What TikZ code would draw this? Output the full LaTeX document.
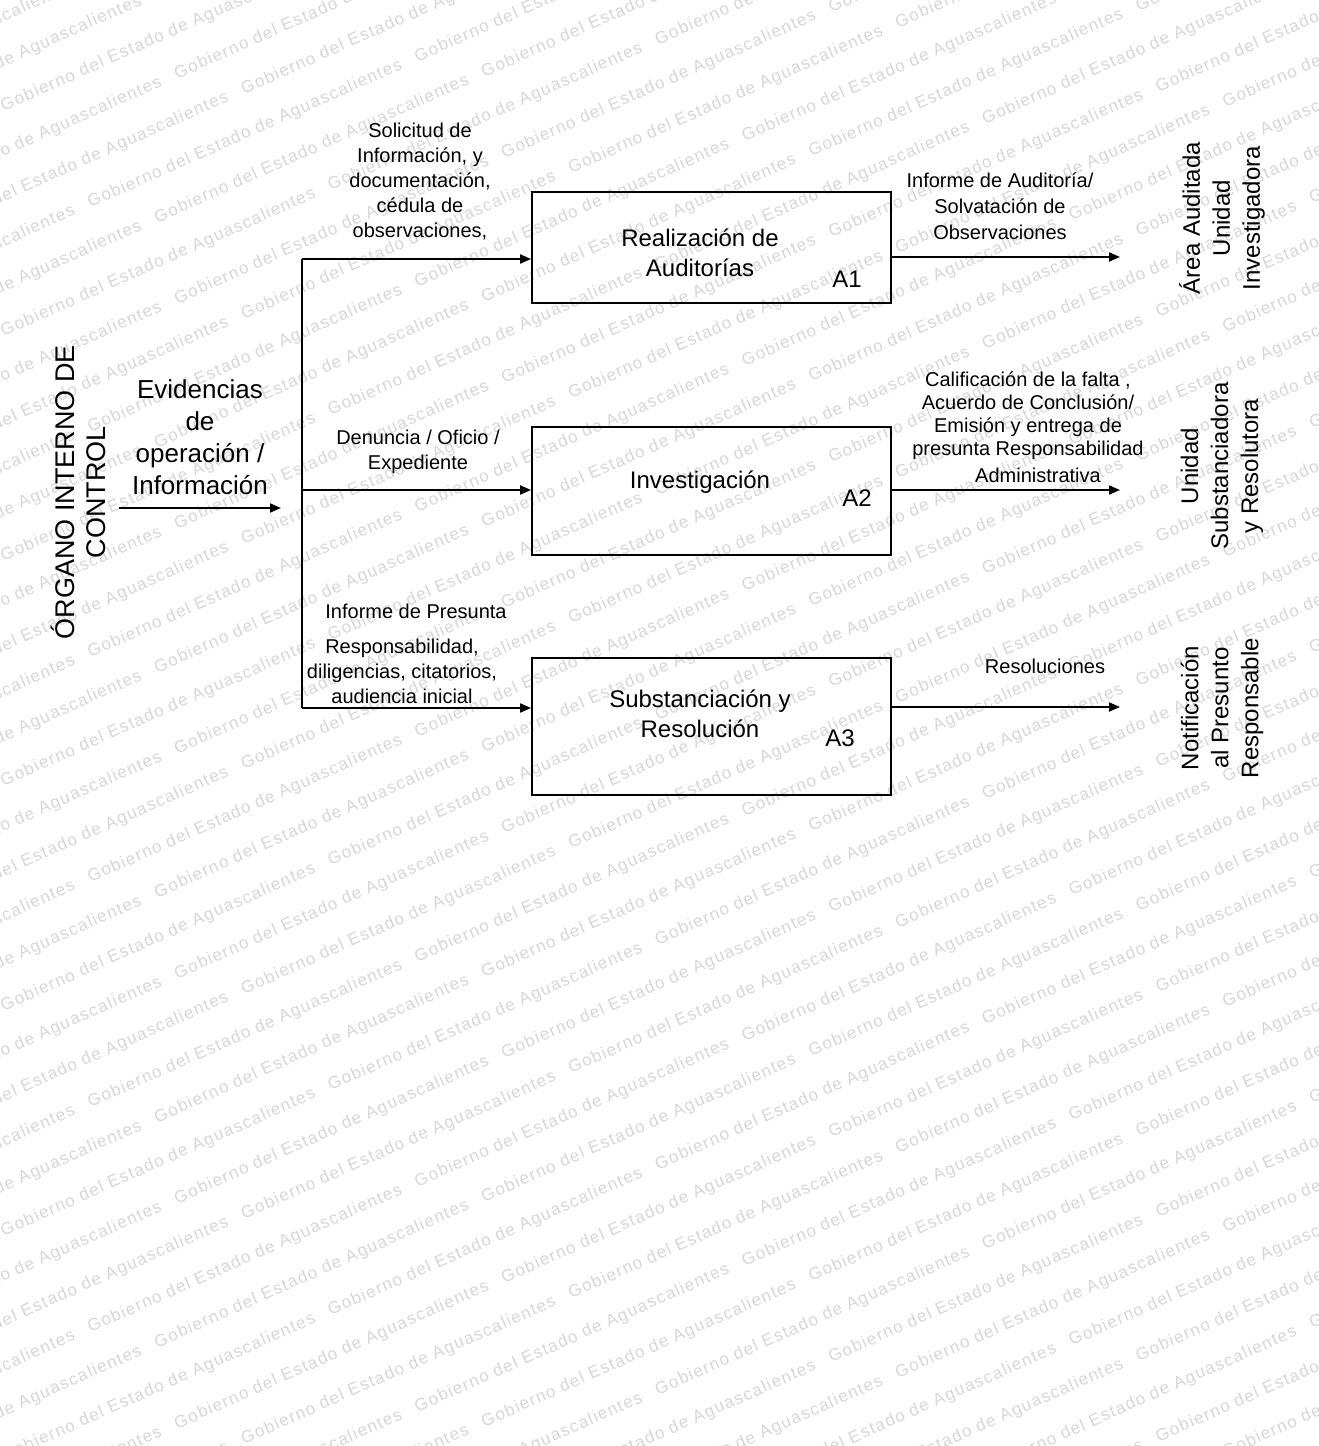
\documentclass[tikz,border=0pt]{standalone}
\usepackage{fontspec}
\setmainfont{Liberation Sans}
\newfontfamily\wmfont{Liberation Sans}[LetterSpace=8]
\usetikzlibrary{arrows.meta}

% background pattern text
\newcommand\wmphrase{Gobierno del Estado de Aguascalientes\hspace{16pt}}
\newcommand\wmline{\wmphrase\wmphrase\wmphrase\wmphrase\wmphrase\wmphrase}

\definecolor{wmgray}{RGB}{214,214,214}

\tikzset{
  wm/.style={font=\wmfont\fontsize{17}{17}\selectfont, text=wmgray, inner sep=0pt},
  proc/.style={draw, line width=1.8pt, minimum width=359pt, minimum height=#1, inner sep=0pt},
  lbl/.style={font=\fontsize{20}{25}\selectfont, align=center, inner sep=0pt},
  boxtxt/.style={font=\fontsize{24}{30}\selectfont, align=center, inner sep=0pt},
  sidetxt/.style={font=\fontsize{24}{30}\selectfont, align=center, inner sep=0pt, rotate=90},
  arr/.style={line width=1.8pt, -{Triangle[length=11pt,width=9pt]}},
  plain/.style={line width=1.6pt}
}

\begin{document}
\begin{tikzpicture}[x=1pt,y=-1pt]
\useasboundingbox (0,0) rectangle (1318,1446);

% diagonal background text: parallel lines 45pt apart, each started at a
% different point along its own direction so the words are staggered
\begin{scope}
  \clip (0,0) rectangle (1318,1446);
  \foreach \i in {0,...,50}{
    \pgfmathsetmacro\k{mod(\i*3,5)}
    \pgfmathsetmacro\xs{-150-\k*95*cos(24)}
    \pgfmathsetmacro\ys{\i*45+\k*95*sin(24)}
    \node[wm, anchor=base west, rotate=24] (wm\i) at (\xs, \ys) {\wmline};
  }
\end{scope}

% activity boxes
\node[proc=111pt] (a1) at (711.5,247.5) {};
\node[proc=128pt] (a2) at (711.5,491) {};
\node[proc=137pt] (a3) at (711.5,726.5) {};

\node[boxtxt] (t1) at (700,253) {Realización de\\Auditorías};
\node[boxtxt] (t2) at (700,482) {Investigación};
\node[boxtxt] (t3) at (700,714) {Substanciación y\\Resolución};

\node[boxtxt] (n1) at (847,279) {A1};
\node[boxtxt] (n2) at (857,498) {A2};
\node[boxtxt] (n3) at (840,738) {A3};

% source and input
\node[sidetxt, font=\fontsize{27}{31}\selectfont] (oic) at (78,492) {ÓRGANO INTERNO DE\\CONTROL};
\node[font=\fontsize{26}{32}\selectfont, align=center, inner sep=0pt] (evid) at (200,437)
  {Evidencias\\de\\operación /\\Información};

\coordinate (in0) at (119,508);
\coordinate (in1) at (281,508);
\draw[arr] (in0) -- (in1);

% distribution line
\coordinate (j1) at (302,259);
\coordinate (j2) at (302,490);
\coordinate (j3) at (302,708);
\draw[plain] (j1) -- (j3);
\draw[arr] (j1) -- (j1 -| a1.west);
\draw[arr] (j2) -- (j2 -| a2.west);
\draw[arr] (j3) -- (j3 -| a3.west);

\node[lbl] (i1) at (420,182) {Solicitud de\\Información, y\\documentación,\\cédula de\\observaciones,};
\node[lbl] (i2) at (418,452) {Denuncia / Oficio /\\Expediente};
\node[lbl] (i3a) at (416,611) {Informe de Presunta};
\node[lbl] (i3b) at (402,671) {Responsabilidad,\\diligencias, citatorios,\\audiencia inicial};

% outputs
\coordinate (o1) at (1120,257);
\coordinate (o2) at (1120,490);
\coordinate (o3) at (1120,707);
\draw[arr] (o1 -| a1.east) -- (o1);
\draw[arr] (o2 -| a2.east) -- (o2);
\draw[arr] (o3 -| a3.east) -- (o3);

\node[lbl, font=\fontsize{20}{26}\selectfont] (q1) at (1000,206) {Informe de Auditoría/\\Solvatación de\\Observaciones};
\node[lbl, font=\fontsize{20}{23}\selectfont] (q2) at (1028,427)
  {Calificación de la falta ,\\Acuerdo de Conclusión/\\Emisión y entrega de\\presunta Responsabilidad\\[4pt]\hspace*{20pt}Administrativa};
\node[lbl] (q3) at (1045,666) {Resoluciones};

% receivers
\node[sidetxt] (r1) at (1222,218) {Área Auditada\\Unidad\\Investigadora};
\node[sidetxt] (r2) at (1222,466) {Unidad\\Substanciadora\\y Resolutora};
\node[sidetxt] (r3) at (1222,708) {Notificación\\al Presunto\\Responsable};

\end{tikzpicture}
\end{document}
